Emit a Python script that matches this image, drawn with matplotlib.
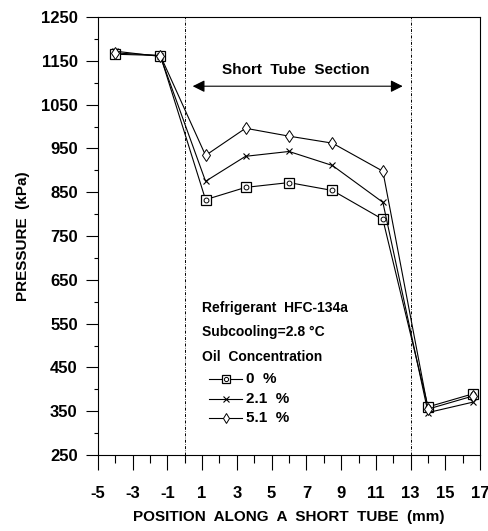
import matplotlib
matplotlib.use("Agg")
import matplotlib.pyplot as plt
from matplotlib.ticker import MultipleLocator

plt.rcParams['font.family'] = ['Liberation Sans', 'DejaVu Sans']
plt.rcParams['font.weight'] = 'bold'
plt.rcParams['axes.unicode_minus'] = False

# positions along the tube (mm)
position = [-4.0, -1.4, 1.2, 3.5, 6.0, 8.5, 11.4, 14.0, 16.6]

# pressure (kPa) for each oil concentration
p_oil_0 = [1165, 1162, 833, 861, 872, 854, 788, 360, 390]
p_oil_21 = [1172, 1160, 875, 932, 943, 911, 827, 347, 371]
p_oil_51 = [1168, 1162, 934, 996, 978, 962, 898, 355, 385]

labels = ['0  %', '2.1  %', '5.1  %']

fig = plt.figure(figsize=(4.89, 5.31), dpi=100)
ax = fig.add_axes([0.2, 0.143, 0.782, 0.825])

lw = 0.8
ax.plot(position, p_oil_0, color='k', lw=lw, marker='s', ms=7, mfc='white', mec='k', mew=0.9)
ax.plot(position, p_oil_0, color='none', marker='o', ms=3.5, mfc='none', mec='k', mew=0.7)
ax.plot(position, p_oil_21, color='k', lw=lw, marker='x', ms=4.5, mec='k', mew=0.8)
ax.plot(position, p_oil_51, color='k', lw=lw, marker='d', ms=6, mfc='white', mec='k', mew=0.7)

# short tube section limits
ax.axvline(0, color='k', lw=0.7, ls='-.', dashes=(3, 1.5, 0.6, 1.5))
ax.axvline(13, color='k', lw=0.7, ls='-.', dashes=(3, 1.5, 0.6, 1.5))
ax.annotate('', xy=(0.3, 1092), xytext=(12.7, 1092),
            arrowprops=dict(arrowstyle='<|-|>', color='k', lw=0.8, mutation_scale=18))
ax.text(6.4, 1128, 'Short  Tube  Section', ha='center', va='center', fontsize=11, fontweight='bold')

# legend text block
ax.text(1.0, 585, 'Refrigerant  HFC-134a', fontsize=10, fontweight='bold', va='center')
ax.text(1.0, 530, 'Subcooling=2.8 \u00b0C', fontsize=10, fontweight='bold', va='center')
ax.text(1.0, 475, 'Oil  Concentration', fontsize=10, fontweight='bold', va='center')
leg_y = [424, 378, 335]
xs = [1.4, 3.3]
mx = [2.35]
ax.plot(xs, [leg_y[0]] * 2, color='k', lw=lw)
ax.plot(mx, [leg_y[0]], marker='s', ms=6, mfc='white', mec='k', mew=0.9)
ax.plot(mx, [leg_y[0]], marker='o', ms=3, mfc='none', mec='k', mew=0.7)
ax.plot(xs, [leg_y[1]] * 2, color='k', lw=lw)
ax.plot(mx, [leg_y[1]], marker='x', ms=4, mec='k', mew=0.8)
ax.plot(xs, [leg_y[2]] * 2, color='k', lw=lw)
ax.plot(mx, [leg_y[2]], marker='d', ms=5.5, mfc='white', mec='k', mew=0.7)
for y, lab in zip(leg_y, labels):
    ax.text(3.5, y, lab, fontsize=11, fontweight='bold', va='center')

ax.set_xlim(-5, 17)
ax.set_ylim(250, 1250)
ax.set_xticks(range(-5, 18, 2))
ax.xaxis.set_minor_locator(MultipleLocator(1))
ax.set_yticks(range(250, 1251, 100))
ax.yaxis.set_minor_locator(MultipleLocator(50))
ax.tick_params(axis='x', which='major', direction='out', length=10.5, width=0.8, pad=12, labelsize=12)
ax.tick_params(axis='x', which='minor', direction='out', length=5.5, width=0.8)
ax.tick_params(axis='y', which='major', direction='out', length=8.5, width=0.8, pad=6, labelsize=12)
ax.tick_params(axis='y', which='minor', direction='out', length=3, width=0.8)
for lab in ax.get_xticklabels() + ax.get_yticklabels():
    lab.set_fontweight('bold')
for s in ax.spines.values():
    s.set_linewidth(0.8)

ax.set_xlabel('POSITION  ALONG  A  SHORT  TUBE  (mm)', fontsize=11, fontweight='bold', labelpad=6)
ax.set_ylabel('PRESSURE  (kPa)', fontsize=11, fontweight='bold', labelpad=8)

fig.savefig('out.png', dpi=100)
